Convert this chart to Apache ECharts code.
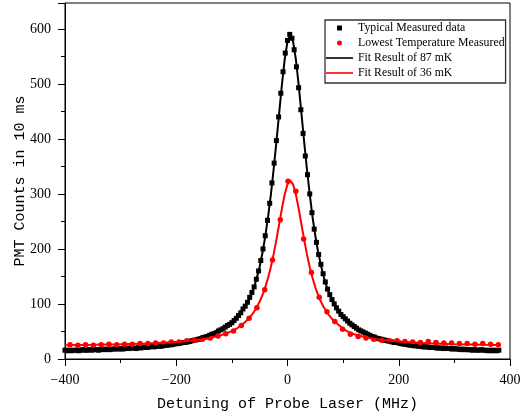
<!DOCTYPE html>
<html><head><meta charset="utf-8">
<script src="https://cdn.jsdelivr.net/npm/echarts@6/dist/echarts.min.js"></script>
<style>html,body{margin:0;padding:0;background:#fff}#c{width:522px;height:417px}</style>
</head><body><div id="c"></div>
<script>
// Typical measured data (black squares)
const blackDetuning = [-400,-396,-392,-388,-384,-380,-376,-372,-368,-364,-360,-356,-352,-348,-344,-340,-336,-332,-328,-324,-320,-316,-312,-308,-304,-300,-296,-292,-288,-284,-280,-276,-272,-268,-264,-260,-256,-252,-248,-244,-240,-236,-232,-228,-224,-220,-216,-212,-208,-204,-200,-196,-192,-188,-184,-180,-176,-172,-168,-164,-160,-156,-152,-148,-144,-140,-136,-132,-128,-124,-120,-116,-112,-108,-104,-100,-96,-92,-88,-84,-80,-76,-72,-68,-64,-60,-56,-52,-48,-44,-40,-36,-32,-28,-24,-20,-16,-12,-8,-4,0,4,8,12,16,20,24,28,32,36,40,44,48,52,56,60,64,68,72,76,80,84,88,92,96,100,104,108,112,116,120,124,128,132,136,140,144,148,152,156,160,164,168,172,176,180,184,188,192,196,200,204,208,212,216,220,224,228,232,236,240,244,248,252,256,260,264,268,272,276,280,284,288,292,296,300,304,308,312,316,320,324,328,332,336,340,344,348,352,356,360,364,368,372,376,380];
const blackCounts = [16,15,16,15,16,16,15,16,17,16,16,17,16,17,17,16,17,18,17,18,17,18,18,19,18,19,18,19,20,19,20,20,19,21,20,21,22,21,22,23,22,23,24,23,24,25,25,26,26,27,28,28,29,30,30,31,32,33,34,35,36,37,39,40,41,43,45,46,48,51,53,55,58,61,63,66,70,74,79,84,91,96,103,112,121,131,145,160,179,200,224,252,283,320,356,397,440,483,522,556,579,590,583,562,531,493,453,410,369,335,300,266,236,212,190,172,155,140,127,117,108,100,93,87,81,77,73,69,65,62,59,56,53,51,49,47,45,43,41,40,38,37,36,35,34,33,32,31,30,30,29,28,27,27,26,25,25,24,24,23,23,22,22,22,21,21,21,20,20,20,19,20,19,19,18,19,18,18,17,18,17,17,17,16,17,16,16,17,16,16,15,16,15,16,15,16];

// Lowest temperature measured (red circles)
const redDetuning = [-391,-377,-363,-349,-335,-321,-307,-293,-279,-265,-251,-237,-223,-209,-195,-181,-167,-153,-139,-125,-111,-97,-83,-69,-55,-41,-27,-13,1,15,29,43,57,71,85,99,113,127,141,155,169,183,197,211,225,239,253,267,281,295,309,323,337,351,365,379];
const redCounts = [26,25,26,25,26,27,26,27,27,28,28,29,29,31,31,33,34,36,38,42,46,51,61,74,93,126,180,253,323,305,218,157,112,86,68,54,45,41,38,36,34,33,33,32,31,30,32,30,29,29,28,28,27,28,27,26];

// Fit curves
const fitDetuning = [-400,-350,-300,-250,-200,-180,-160,-140,-120,-110,-100,-90,-80,-70,-65,-60,-55,-50,-45,-40,-35,-30,-25,-20,-15,-10,-5,0,5,10,15,20,25,30,35,40,45,50,55,60,65,70,75,80,90,100,110,120,140,160,180,200,250,300,350,380];
const fit87mK = [15.3,16.6,18.5,21.7,27.4,31.0,35.9,42.8,53.0,59,66.5,76.5,90,107,117,131,148,168,193,223,258,298,344,394,447,499,545,577,589,577,545,499,447,394,344,299,258,224,195,171,150,133,119,108,89,76,66,58,46,37.5,32,28,22,18.5,16.5,15.8];
const fit36mK = [25.0,25.7,26.6,28.1,30.8,32.6,34.9,38.3,43.2,46.5,50.8,56.3,63.5,73.1,79.1,86.2,94.5,104.5,116.3,130.3,147.1,166.9,190.1,216.4,244.9,273.8,299.4,317.5,324,317.5,299.4,273.8,244.9,216.4,190.1,166.9,147.1,130.3,116.3,104.5,94.5,86.2,79.1,73.1,63.5,55,49,45,39.5,36,33.6,31.6,28.5,26.8,25.8,25.4];

const seriesNames = ['Typical Measured data','Lowest Temperature Measured','Fit Result of 87 mK','Fit Result of 36 mK'];
const xAxisName = 'Detuning of Probe Laser (MHz)';
const yAxisName = 'PMT Counts in 10 ms';

const serif = '"Liberation Serif", "Times New Roman", serif';
const mono = '"Liberation Mono", "DejaVu Sans Mono", monospace';
const pairs = (xs, ys) => xs.map((x, i) => [x, ys[i]]);
const lineIcon = 'path://M0,0h27v1.6h-27z';

const chart = echarts.init(document.getElementById('c'), null, {renderer: 'canvas'});
chart.setOption({
  animation: false,
  backgroundColor: '#fff',
  grid: {left: 65, right: 12, top: 3, bottom: 58, show: true, borderColor: '#000', borderWidth: 1,
         outerBoundsMode: 'none', containLabel: false},
  legend: {
    orient: 'vertical', left: 325, top: 20,
    itemWidth: 27, itemHeight: 5, itemGap: 1,
    padding: [1, 1, 3, 1],
    borderColor: '#333', borderWidth: 1.3, backgroundColor: '#fff',
    textStyle: {fontFamily: serif, fontSize: 11.8, color: '#000', lineHeight: 14},
    data: [
      {name: seriesNames[0], icon: 'path://M0,0h10v10h-10z'},
      {name: seriesNames[1], icon: 'circle'},
      {name: seriesNames[2], icon: lineIcon},
      {name: seriesNames[3], icon: lineIcon}
    ]
  },
  xAxis: {
    type: 'value', min: -400, max: 400, interval: 200,
    axisLine: {onZero: false, lineStyle: {color: '#000', width: 1}},
    axisTick: {length: 7, lineStyle: {color: '#000'}},
    minorTick: {show: true, splitNumber: 2, length: 4, lineStyle: {color: '#000'}},
    splitLine: {show: false},
    axisLabel: {color: '#000', fontFamily: serif, fontSize: 14, margin: 14,
      formatter: v => String(v).replace('-', '\u2212')},
    name: xAxisName, nameLocation: 'middle', nameGap: 38, nameMoveOverlap: false,
    nameTextStyle: {fontFamily: mono, fontSize: 15, color: '#000'}
  },
  yAxis: {
    type: 'value', min: 0, max: 647, interval: 100,
    axisLine: {show: true, onZero: false, lineStyle: {color: '#000', width: 1}},
    axisTick: {show: true, length: 7, lineStyle: {color: '#000'}},
    minorTick: {show: true, splitNumber: 2, length: 4, lineStyle: {color: '#000'}},
    splitLine: {show: false},
    axisLabel: {color: '#000', fontFamily: serif, fontSize: 14, margin: 14, showMaxLabel: false},
    name: yAxisName, nameLocation: 'middle', nameGap: 37, nameMoveOverlap: false,
    nameTextStyle: {fontFamily: mono, fontSize: 15, color: '#000'}
  },
  series: [
    {name: seriesNames[0], type: 'scatter', symbol: 'rect', symbolSize: 5,
     itemStyle: {color: '#000', opacity: 1}, data: pairs(blackDetuning, blackCounts), z: 2},
    {name: seriesNames[1], type: 'scatter', symbol: 'circle', symbolSize: 5.5,
     itemStyle: {color: '#ff0000', opacity: 1}, data: pairs(redDetuning, redCounts), z: 3},
    {name: seriesNames[2], type: 'line', symbol: 'none', showSymbol: false,
     lineStyle: {color: '#000', width: 2}, itemStyle: {color: '#000'},
     data: pairs(fitDetuning, fit87mK), z: 4},
    {name: seriesNames[3], type: 'line', symbol: 'none', showSymbol: false,
     lineStyle: {color: '#ff0000', width: 2}, itemStyle: {color: '#ff0000'},
     data: pairs(fitDetuning, fit36mK), z: 5}
  ]
});
</script>
</body></html>
